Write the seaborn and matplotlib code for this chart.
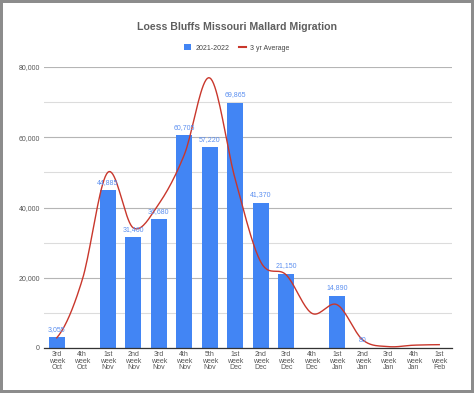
import numpy as np
import pandas as pd
import seaborn as sns
import matplotlib
matplotlib.use('Agg')
import matplotlib.pyplot as plt
from matplotlib.patches import Patch
from matplotlib.lines import Line2D

# Data
weeks = ['3rd\nweek\nOct', '4th\nweek\nOct', '1st\nweek\nNov', '2nd\nweek\nNov',
         '3rd\nweek\nNov', '4th\nweek\nNov', '5th\nweek\nNov', '1st\nweek\nDec',
         '2nd\nweek\nDec', '3rd\nweek\nDec', '4th\nweek\nDec', '1st\nweek\nJan',
         '2nd\nweek\nJan', '3rd\nweek\nJan', '4th\nweek\nJan', '1st\nweek\nFeb']
counts_2122 = [3055, np.nan, 44885, 31460, 36680, 60705, 57220, 69865,
               41370, 21150, np.nan, 14890, 80, np.nan, np.nan, np.nan]
avg_3yr = [2900, 19400, 50000, 34200, 41000, 55000, 76900, 48000,
           24500, 20800, 9900, 12300, 2300, 400, 800, 950]

df = pd.DataFrame({'week': weeks, 'count': counts_2122, 'avg': avg_3yr})

BLUE = '#4285f4'
RED = '#c9372c'
GREY = '#555555'

plt.rcParams['font.family'] = ['Liberation Sans', 'DejaVu Sans']

fig = plt.figure(figsize=(4.74, 3.93), dpi=100, facecolor='white',
                 edgecolor='#8c8c8c', linewidth=3)
ax = fig.add_axes([44 / 474, 1 - 348 / 393, 408 / 474, 281 / 393])

sns.barplot(data=df, x='week', y='count', order=weeks, color=BLUE,
            width=0.63, saturation=1, ax=ax, zorder=3)

# bar value labels
for c in ax.containers:
    labels = ['' if (np.isnan(v) or v == 0) else f'{v:,.0f}' for v in c.datavalues]
    ax.bar_label(c, labels=labels, padding=3, fontsize=5, color='#5b8ff0', zorder=5)


# smooth 3 yr average (Catmull-Rom through the weekly values)
def catmull(y, n=20):
    p = np.concatenate([[y[0]], y, [y[-1]]])
    xs, ys = [], []
    for i in range(len(y) - 1):
        p0, p1, p2, p3 = p[i], p[i + 1], p[i + 2], p[i + 3]
        t = np.linspace(0, 1, n, endpoint=False)
        ys.append(0.5 * (2 * p1 + (-p0 + p2) * t + (2 * p0 - 5 * p1 + 4 * p2 - p3) * t ** 2
                         + (-p0 + 3 * p1 - 3 * p2 + p3) * t ** 3))
        xs.append(i + t)
    xs.append([len(y) - 1])
    ys.append([y[-1]])
    return np.concatenate(xs), np.concatenate(ys)


sx, sy = catmull(np.array(avg_3yr, dtype=float))
ax.plot(sx, sy, color=RED, lw=1.0, zorder=4)

ax.set_ylim(0, 80000)
ax.set_xlim(-0.5, len(weeks) - 0.5)
ax.set_yticks(range(0, 80001, 20000))
ax.set_yticks(range(10000, 80000, 20000), minor=True)
ax.yaxis.set_major_formatter(matplotlib.ticker.FuncFormatter(lambda v, p: f'{v:,.0f}'))
ax.grid(axis='y', which='major', color='#b5b5b5', lw=0.8, zorder=0)
ax.grid(axis='y', which='minor', color='#dcdcdc', lw=0.8, zorder=0)
ax.set_axisbelow(True)
ax.tick_params(axis='y', which='both', length=0, pad=3, labelsize=5, labelcolor=GREY)
ax.tick_params(axis='x', length=0, pad=2, labelsize=5, labelcolor=GREY)
for lab in ax.get_xticklabels():
    lab.set_linespacing(0.95)
ax.set_xlabel('')
ax.set_ylabel('')
for s in ['top', 'right', 'left']:
    ax.spines[s].set_visible(False)
ax.spines['bottom'].set_color('#333333')
ax.spines['bottom'].set_linewidth(0.9)
ax.spines['bottom'].set_zorder(6)

fig.text(0.5, 1 - 27 / 393, 'Loess Bluffs Missouri Mallard Migration', ha='center',
         va='center', fontsize=7.6, fontweight='bold', color='#5f5f5f')

handles = [Patch(facecolor=BLUE, edgecolor='none'), Line2D([], [], color=RED, lw=1.5)]
fig.legend(handles, ['2021-2022', '3 yr Average'], loc='center',
           bbox_to_anchor=(0.5, 1 - 48 / 393), ncol=2, frameon=False, fontsize=5,
           handlelength=1.0, handleheight=1.0, handletextpad=0.6, columnspacing=1.4,
           labelcolor='#444444')

fig.savefig('out.png', dpi=100, facecolor='white', edgecolor=fig.get_edgecolor())
